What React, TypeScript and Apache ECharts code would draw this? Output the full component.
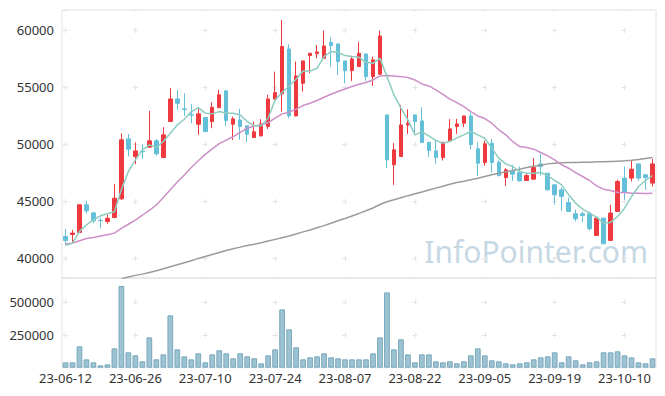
import React, { useEffect, useRef } from "react";
import * as echarts from "echarts";

const dates = [
  "23-06-12", "23-06-13", "23-06-14", "23-06-15", "23-06-16",
  "23-06-19", "23-06-20", "23-06-21", "23-06-22", "23-06-23",
  "23-06-26", "23-06-27", "23-06-28", "23-06-29", "23-06-30",
  "23-07-03", "23-07-04", "23-07-05", "23-07-06", "23-07-07",
  "23-07-10", "23-07-11", "23-07-12", "23-07-13", "23-07-14",
  "23-07-17", "23-07-18", "23-07-19", "23-07-20", "23-07-21",
  "23-07-24", "23-07-25", "23-07-26", "23-07-27", "23-07-28",
  "23-07-31", "23-08-01", "23-08-02", "23-08-03", "23-08-04",
  "23-08-07", "23-08-08", "23-08-09", "23-08-10", "23-08-11",
  "23-08-14", "23-08-16", "23-08-17", "23-08-18", "23-08-21",
  "23-08-22", "23-08-23", "23-08-24", "23-08-25", "23-08-28",
  "23-08-29", "23-08-30", "23-08-31", "23-09-01", "23-09-04",
  "23-09-05", "23-09-06", "23-09-07", "23-09-08", "23-09-11",
  "23-09-12", "23-09-13", "23-09-14", "23-09-15", "23-09-18",
  "23-09-19", "23-09-20", "23-09-21", "23-09-22", "23-09-25",
  "23-09-26", "23-09-27", "23-10-04", "23-10-05", "23-10-06",
  "23-10-10", "23-10-11", "23-10-12", "23-10-13", "23-10-16",
];

const opens = [
  41900, 42070, 42250, 44680, 43970, 43320, 43210, 43560, 45200, 50460,
  48920, 49380, 49730, 50290, 48830, 51990, 53970, 53100, 52590, 51750,
  52340, 51990, 53210, 54680, 51750, 52130, 51610, 50580, 50730, 51550,
  53950, 54410, 58360, 52480, 55350, 57780, 57950, 57540, 58950, 58800,
  57310, 56460, 56810, 57920, 55930, 56140, 52570, 48190, 48920, 51690,
  52570, 52040, 50170, 49410, 48830, 50320, 51550, 51840, 52480, 49590,
  48390, 50090, 48420, 47070, 47660, 47540, 46810, 46930, 48270, 47450,
  46430, 45990, 44880, 43890, 43890, 43890, 41990, 43510, 41550, 44090,
  47020, 47020, 48270, 47310, 46580,
];
const closes = [
  41550, 42190, 44680, 44150, 43270, 43280, 43500, 45260, 50380, 49560,
  49410, 49330, 50290, 49150, 50820, 53970, 53590, 53040, 52550, 52660,
  51110, 53240, 54330, 52070, 52220, 51550, 50870, 51080, 51780, 53970,
  54530, 58570, 52480, 55990, 57310, 57980, 58100, 58620, 58650, 57250,
  56460, 57480, 57980, 55930, 57400, 59500, 48620, 49500, 51690, 51840,
  51990, 50140, 49440, 48830, 50170, 51340, 51780, 52480, 49970, 48330,
  50030, 48390, 47250, 47750, 47370, 46780, 47250, 47950, 48040, 45990,
  45550, 45410, 44090, 43450, 43740, 42570, 43510, 41250, 43950, 46720,
  45760, 47800, 47020, 47070, 48270,
];
const lows = [
  41170, 41320, 42200, 43890, 43070, 42630, 43010, 43500, 45110, 48920,
  48240, 48710, 49700, 49000, 48770, 51950, 53010, 52480, 51840, 50820,
  51050, 51400, 53160, 51610, 50380, 50380, 50170, 50560, 50670, 51340,
  53900, 52860, 52280, 52450, 54620, 56230, 57540, 57500, 56810, 56080,
  55350, 55550, 56780, 55550, 55110, 56100, 47890, 46430, 48900, 50900,
  50960, 50100, 48860, 48270, 48570, 50300, 50900, 51490, 49560, 47220,
  48100, 47510, 47160, 46340, 46780, 46720, 46780, 46900, 47250, 45950,
  44680, 44150, 44060, 43210, 43160, 42420, 41960, 41230, 41520, 44060,
  45110, 46720, 46780, 45990, 46280,
];
const highs = [
  42540, 42480, 44700, 45030, 43970, 43560, 43800, 46500, 50960, 50900,
  50140, 50000, 52920, 50460, 51490, 54910, 54760, 54470, 53510, 53100,
  52370, 53680, 54760, 54700, 52420, 53100, 51610, 51990, 52190, 54330,
  56370, 60900, 58770, 57250, 57310, 57990, 58710, 59970, 59380, 58860,
  57310, 57750, 59000, 57920, 57690, 59970, 52570, 50090, 53450, 53070,
  52570, 53240, 50170, 50380, 50200, 52190, 52220, 52500, 52780, 50170,
  50320, 50440, 48570, 47890, 48190, 48040, 47370, 48770, 49150, 47480,
  46450, 46200, 45320, 44240, 44090, 44090, 43650, 43520, 44680, 46870,
  48040, 48570, 48290, 47370, 48710,
];

const volumes = [
  41000, 41000, 163600, 64000, 41000, 18100, 25700, 148000, 624600, 117600,
  94600, 48700, 232000, 64000, 102000, 400500, 140500, 87000, 64000, 110000,
  41000, 102000, 133000, 110000, 71600, 110000, 87000, 71600, 33400, 94600,
  140500, 446000, 293300, 155700, 64000, 79200, 87000, 110000, 79200, 71600,
  64000, 64000, 64000, 64000, 110000, 232000, 576000, 140500, 217000, 102000,
  41000, 102000, 102000, 48700, 41000, 48700, 33600, 48700, 94600, 148000,
  94600, 56500, 48700, 33600, 26000, 33600, 41000, 64000, 79200, 87000,
  117600, 41000, 87000, 56500, 26000, 41000, 48700, 117600, 117600, 125300,
  94600, 79200, 41000, 33600, 71600,
];

const ma5 = [
  41110, 41310, 42340, 42920, 43360, 43710, 43890, 44060, 45990, 47600,
  48620, 49500, 49940, 49710, 50230, 50960, 51690, 52190, 52860, 53210,
  52720, 52660, 52860, 52720, 52720, 52570, 51990, 51610, 51620, 52280,
  53890, 54530, 55110, 55700, 56430, 56430, 56660, 57690, 58130, 58070,
  57780, 57690, 57630, 57190, 57100, 57540, 55930, 54330, 53160, 52130,
  50820, 51080, 50730, 50320, 50090, 50230, 50550, 50820, 51110, 50820,
  50520, 49650, 48770, 48270, 48040, 47600, 47450, 47450, 47510, 47250,
  46810, 46430, 45550, 44820, 44300, 43950, 43590, 43070, 43130, 43650,
  44380, 45410, 46280, 46810, 47250,
];
const ma20 = [
  41230, 41310, 41520, 41720, 41810, 41930, 42040, 42190, 42610, 42970,
  43340, 43760, 44190, 44660, 45320, 46000, 46670, 47300, 47950, 48550,
  49100, 49580, 50050, 50360, 50670, 51040, 51400, 51600, 51690, 51900,
  52280, 52660, 52810, 53070, 53390, 53590, 53830, 54120, 54380, 54620,
  54850, 55060, 55260, 55410, 55640, 55990, 56020, 55990, 55930, 55850,
  55640, 55290, 55110, 54760, 54380, 53950, 53650, 53300, 52860, 52480,
  52250, 51840, 51260, 50820, 50230, 49790, 49710, 49560, 49270, 48970,
  48620, 48190, 47890, 47510, 47160, 46810, 46340, 46050, 45930, 45760,
  45760, 45700, 45700, 45670, 45700,
];
const ma120 = [
  null, null, null, null, null, null, null, null, 38190, 38330,
  38480, 38590, 38740, 38890, 39060, 39240, 39410, 39590, 39760, 39970,
  40140, 40320, 40490, 40670, 40820, 40960, 41110, 41220, 41340, 41490,
  41640, 41790, 41930, 42120, 42300, 42470, 42660, 42850, 43060, 43270,
  43480, 43700, 43920, 44150, 44400, 44700, 44950, 45120, 45300, 45480,
  45650, 45800, 45970, 46140, 46310, 46480, 46640, 46750, 46870, 47010,
  47160, 47310, 47450, 47570, 47690, 47800, 47950, 48070, 48150, 48270,
  48330, 48360, 48390, 48390, 48420, 48420, 48450, 48450, 48480, 48510,
  48540, 48590, 48650, 48740, 48830,
];

const UP = "#ee3a3e";
const DOWN = "#64c0d9";
const FONT = '"Noto Sans", sans-serif';
const GRID_LINE = "#e4e4e4";

export default function App() {
  const ref = useRef<HTMLDivElement>(null);
  useEffect(() => {
    document.body.style.margin = "0";
    const chart = echarts.init(ref.current as HTMLDivElement, null, { renderer: "svg" });
    const candles = dates.map((_, i) => [opens[i], closes[i], lows[i], highs[i]]);
    const labelStyle = { color: "#333", fontFamily: FONT, fontSize: 13 };
    const plain = (v: number) => String(v);
    chart.setOption({
      animation: false,
      backgroundColor: "#ffffff",
      grid: [
        { left: 62, top: 10, width: 594, height: 268, show: true, borderColor: "#e2e2e2", borderWidth: 1 },
        { left: 62, top: 278, width: 594, height: 89.7, show: true, borderColor: "#e2e2e2", borderWidth: 1 },
      ],
      xAxis: [
        {
          type: "category",
          gridIndex: 0,
          data: dates,
          boundaryGap: true,
          axisLine: { show: false },
          axisTick: { show: false },
          axisLabel: { show: false },
          splitLine: {
            show: true,
            interval: 9,
            alignWithLabel: true,
            lineStyle: { color: GRID_LINE, type: [5, 52], dashOffset: 39.2 },
          },
        },
        {
          type: "category",
          gridIndex: 1,
          data: dates,
          boundaryGap: true,
          axisLine: { show: false },
          axisTick: { show: false },
          axisLabel: { ...labelStyle, interval: 9, margin: 4 },
          splitLine: {
            show: true,
            interval: 9,
            alignWithLabel: true,
            lineStyle: { color: GRID_LINE, type: [5, 27.7], dashOffset: 10.9 },
          },
        },
      ],
      yAxis: [
        {
          type: "value",
          gridIndex: 0,
          min: 38250,
          max: 61780,
          splitNumber: 5,
          axisLine: { show: false },
          axisTick: { show: false },
          axisLabel: { ...labelStyle, margin: 8, showMinLabel: false, showMaxLabel: false, formatter: plain },
          splitLine: { show: true, lineStyle: { color: GRID_LINE, type: [5, 64.85], dashOffset: 68.85 } },
        },
        {
          type: "value",
          gridIndex: 1,
          min: 0,
          max: 686000,
          interval: 250000,
          axisLine: { show: false },
          axisTick: { show: false },
          axisLabel: { ...labelStyle, margin: 8, showMinLabel: false, showMaxLabel: false, formatter: plain },
          splitLine: { show: true, lineStyle: { color: GRID_LINE, type: [5, 64.85], dashOffset: 68.85 } },
        },
      ],
      graphic: [
        {
          type: "text",
          right: 17,
          top: 236,
          z: 0,
          style: {
            text: "InfoPointer.com",
            font: '30px "Noto Sans", sans-serif',
            fill: "#c6d8e3",
          },
        },
      ],
      series: [
        {
          type: "candlestick",
          xAxisIndex: 0,
          yAxisIndex: 0,
          data: candles,
          barWidth: 4,
          itemStyle: { color: UP, color0: DOWN, borderColor: UP, borderColor0: DOWN, borderWidth: 1 },
          z: 3,
        },
        {
          type: "line",
          xAxisIndex: 0,
          yAxisIndex: 0,
          data: ma120,
          showSymbol: false,
          symbol: "none",
          lineStyle: { color: "#9b9b9b", width: 1.5 },
          z: 4,
        },
        {
          type: "line",
          xAxisIndex: 0,
          yAxisIndex: 0,
          data: ma20,
          showSymbol: false,
          symbol: "none",
          lineStyle: { color: "#cc8fc8", width: 1.5 },
          z: 4,
        },
        {
          type: "line",
          xAxisIndex: 0,
          yAxisIndex: 0,
          data: ma5,
          showSymbol: false,
          symbol: "none",
          lineStyle: { color: "#8dcdc1", width: 1.5 },
          z: 4,
        },
        {
          type: "bar",
          xAxisIndex: 1,
          yAxisIndex: 1,
          data: volumes,
          barWidth: "82%",
          itemStyle: { color: "#9dc3d3", borderColor: "#78a8bd", borderWidth: 1 },
        },
      ],
    });
    return () => chart.dispose();
  }, []);
  return <div ref={ref} style={{ width: 665, height: 396 }} />;
}
